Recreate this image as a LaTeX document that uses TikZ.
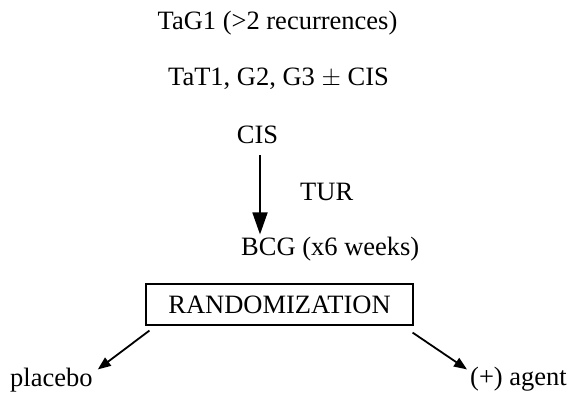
\documentclass[tikz,border=0pt]{standalone}
\usepackage{fontspec}
\setmainfont{Liberation Serif}
\usepackage{tikz}
\usetikzlibrary{positioning, arrows.meta}

\begin{document}
\begin{tikzpicture}[
    x=1pt, y=-1pt,
    lbl/.style={inner sep=2pt, font=\fontsize{26.5}{32}\selectfont},
    randbox/.style={lbl, draw, line width=1.1pt, minimum width=267pt, minimum height=41pt},
    flow/.style={line width=1.8pt, -{Triangle[length=22pt, width=15pt]}},
    split/.style={line width=1.8pt, -{Triangle[length=13pt, width=10pt]}}
]
\useasboundingbox (0,0) rectangle (570,392);

\node[lbl, anchor=base] (tag) at (277.5, 29) {TaG1 (>2 recurrences)};
\node[lbl, anchor=base] (tat) at (278.5, 85) {TaT1, G2, G3 $\pm$ CIS};
\node[lbl, anchor=base] (cis) at (257.5, 143) {CIS};
\node[lbl, anchor=base west] (tur) at (298, 200) {TUR};
\node[lbl, anchor=base west] (bcg) at (239, 255) {BCG (x6 weeks)};
\node[randbox] (rand) at (279.5, 304.5) {RANDOMIZATION};
\node[lbl, anchor=base west] (placebo) at (8, 386) {placebo};
\node[lbl, anchor=base west] (agent) at (468, 385) {(+) agent};

\draw[flow] ([shift={(2.5,10)}]cis.south) -- ([xshift=2.5pt]cis.south |- bcg.north);
\draw[split] ([shift={(4,5)}]rand.south west) -- ([shift={(3,4)}]placebo.north east);
\draw[split] ([shift={(-1,7)}]rand.south east) -- ([shift={(-1,5)}]agent.north west);
\end{tikzpicture}
\end{document}
